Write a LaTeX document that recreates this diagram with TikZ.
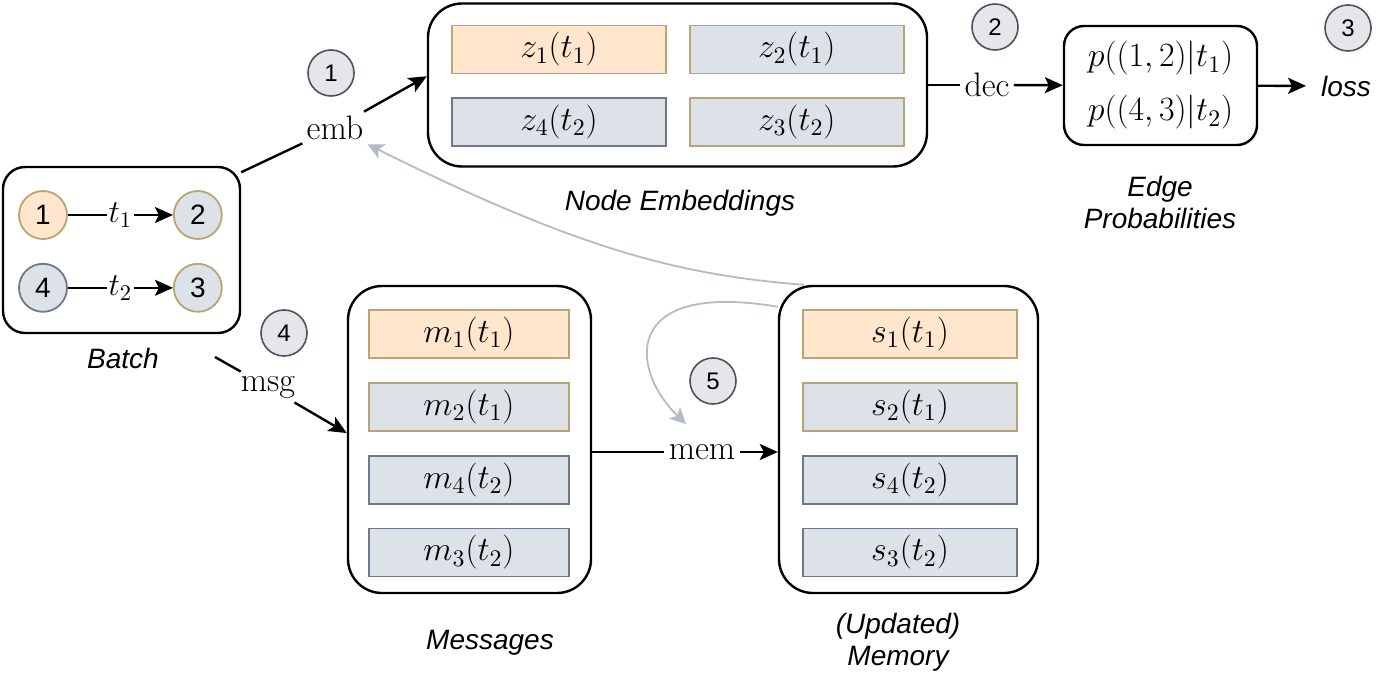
\RequirePackage{fix-cm}
\documentclass[tikz,border=0pt]{standalone}
\usepackage{fontspec}
\setsansfont{Liberation Sans}
\usetikzlibrary{arrows.meta,positioning}
\definecolor{orfill}{HTML}{FFE6CC}
\definecolor{ordraw}{HTML}{B9A574}
\definecolor{gyfill}{HTML}{DCE2E8}
\definecolor{gydraw}{HTML}{6E788A}
\definecolor{bdfill}{HTML}{E4E6E9}
\definecolor{bddraw}{HTML}{4C525B}
\definecolor{fbk}{HTML}{B4BBC2}

\begin{document}
\begin{tikzpicture}[x=0.5pt,y=-0.5pt,
  box/.style={draw,rounded corners=17pt,line width=1.2pt},
  orcell/.style={fill=orfill,draw=ordraw,line width=0.9pt,minimum width=107pt,minimum height=24pt,font=\fontsize{17}{20}\selectfont},
  gtcell/.style={orcell,fill=gyfill},
  gycell/.style={orcell,fill=gyfill,draw=gydraw},
  ele/.style={circle,draw=ordraw,fill=orfill,line width=0.9pt,minimum size=24pt,inner sep=0pt,font=\sffamily\fontsize{14}{16}\selectfont},
  badge/.style={circle,draw=bddraw,fill=bdfill,line width=0.8pt,minimum size=23pt,inner sep=0pt,font=\sffamily\fontsize{12}{14}\selectfont},
  lbl/.style={font=\sffamily\itshape\fontsize{14}{16}\selectfont,align=center},
  fn/.style={fill=white,inner sep=2pt,font=\fontsize{17}{20}\selectfont},
  conn/.style={line width=1.2pt},
  arr/.style={conn,-{Stealth[length=9pt,width=8pt,inset=2pt]}},
  fb/.style={draw=fbk,line width=0.9pt,-{Stealth[length=8pt,width=8pt,inset=2pt]}},
  node distance=11.5pt and 11pt]
  \useasboundingbox (0,0) rectangle (1400,678);

  \node[box,rounded corners=11pt,minimum width=118.5pt,minimum height=83pt] (batch) at (121.5,250) {};
  \node[ele] (b1) at (43,215) {1};
  \node[ele,fill=gyfill] (b2) [right=52.5pt of b1] {2};
  \node[ele,fill=gyfill,draw=gydraw] (b4) [below=of b1] {4};
  \node[ele,fill=gyfill] (b3) [below=of b2] {3};
  \draw[arr,line width=1pt] (b1) -- node[fill=white,inner sep=1pt,font=\fontsize{16}{19}\selectfont] {$t_1$} (b2);
  \draw[arr,line width=1pt] (b4) -- node[fill=white,inner sep=1pt,font=\fontsize{16}{19}\selectfont] {$t_2$} (b3);
  \node[lbl] (batchlbl) at (123,358) {Batch};

  \node[box,minimum width=249.5pt,minimum height=81.5pt] (embbox) at (677.5,85) {};
  \node[orcell] (z1) at (559,49.5) {$z_1(t_1)$};
  \node[gtcell] (z2) [right=of z1] {$z_2(t_1)$};
  \node[gycell] (z4) [below=of z1] {$z_4(t_2)$};
  \node[gtcell] (z3) [below=of z2] {$z_3(t_2)$};
  \node[lbl] (emblbl) at (680,203) {Node Embeddings};

  \node[box,rounded corners=10pt,minimum width=96.5pt,minimum height=59.5pt,align=center,font=\fontsize{17}{20}\selectfont] (prob) at (1160.5,85.5) {$p((1,2)|t_1)$\\[7pt]$p((4,3)|t_2)$};
  \node[lbl] (problbl) at (1160,202) {Edge\\Probabilities};
  \node[lbl] (loss) at (1346,86) {loss};

  \node[box,minimum width=121.5pt,minimum height=153.5pt] (msgbox) at (469.5,439.5) {};
  \node[orcell,minimum width=100pt] (m1) at (469,334) {$m_1(t_1)$};
  \node[gtcell,minimum width=100pt] (m2) [below=of m1] {$m_2(t_1)$};
  \node[gycell,minimum width=100pt] (m4) [below=of m2] {$m_4(t_2)$};
  \node[gycell,minimum width=100pt] (m3) [below=of m4] {$m_3(t_2)$};
  \node[lbl] (msglbl) at (490,643) {Messages};

  \node[box,minimum width=129.5pt,minimum height=153.5pt] (membox) at (908.5,439.5) {};
  \node[orcell] (s1) at (910,334) {$s_1(t_1)$};
  \node[gtcell] (s2) [below=of s1] {$s_2(t_1)$};
  \node[gycell] (s4) [below=of s2] {$s_4(t_2)$};
  \node[gycell] (s3) [below=of s4] {$s_3(t_2)$};
  \node[lbl] (memlbl) at (898,642) {(Updated)\\Memory};

  \node[fn] (emb) at (335,128) {emb};
  \node[fn] (dec) at (987,85) {dec};
  \node[fn] (msg) at (268,387) {msg};
  \node[fn] (mem) at (702,452) {mem};
  \coordinate (bsrc) at (215,357);

  \node[badge] (c1) at (331,73) {1};
  \node[badge] (c2) at (995,27) {2};
  \node[badge] (c3) at (1348,28) {3};
  \node[badge] (c4) at (284,333) {4};
  \node[badge] (c5) at (713,381) {5};

  \draw[conn] (batch.33) -- (emb);
  \draw[arr] (emb) -- (embbox.178);
  \draw[conn] (embbox) -- (dec);
  \draw[arr] (dec) -- (prob);
  \draw[arr,shorten >=4pt] (prob) -- (loss);
  \draw[conn] (bsrc) -- (msg);
  \draw[arr] (msg) -- (msgbox.177);
  \draw[conn] (msgbox.east |- mem) -- (mem);
  \draw[arr] (mem) -- (membox.west |- mem);

  \draw[fb] ([xshift=13pt]membox.north west) .. controls (680,275) and (580,250) .. (emb.south east);
  \draw[fb] ([yshift=-11pt]membox.north west) .. controls (620,280) and (630,370) .. ([xshift=-8pt,yshift=8pt]mem.north);
\end{tikzpicture}
\end{document}
